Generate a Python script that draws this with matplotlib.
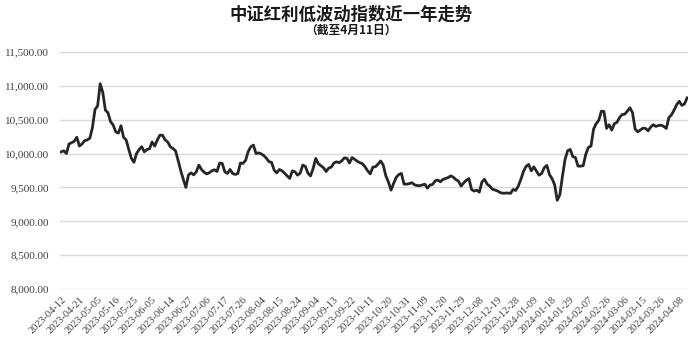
import pandas as pd
import matplotlib
matplotlib.use("Agg")
import matplotlib.pyplot as plt
from matplotlib.ticker import FuncFormatter

# 交易日（剔除节假日）
start_date = "2023-04-12"
end_date = "2024-04-11"
holidays = [
    "2023-05-01", "2023-05-02", "2023-05-03",
    "2023-06-22", "2023-06-23",
    "2023-09-29", "2023-10-02", "2023-10-03", "2023-10-04", "2023-10-05", "2023-10-06",
    "2024-01-01",
    "2024-02-09", "2024-02-12", "2024-02-13", "2024-02-14", "2024-02-15", "2024-02-16",
    "2024-04-04", "2024-04-05",
]

# 中证红利低波动指数收盘点位
close = [
    10025, 10040, 10000, 10140, 10160, 10180, 10240, 10110, 10140, 10190,
    10200, 10225, 10380, 10650, 10700, 11030, 10900, 10640, 10600, 10470,
    10420, 10320, 10300, 10410, 10240, 10200, 10060, 9930, 9870, 10000,
    10060, 10100, 10025, 10060, 10070, 10170, 10110, 10200, 10270, 10270,
    10200, 10170, 10100, 10075, 10040, 9900, 9750, 9620, 9500, 9685,
    9715, 9685, 9730, 9829, 9765, 9725, 9700, 9715, 9745, 9760,
    9735, 9860, 9854, 9730, 9706, 9765, 9705, 9691, 9706, 9860,
    9854, 9900, 10030, 10100, 10124, 10000, 10010, 9995, 9970, 9930,
    9880, 9869, 9755, 9715, 9765, 9745, 9710, 9670, 9633, 9745,
    9730, 9681, 9710, 9829, 9810, 9710, 9670, 9780, 9928, 9850,
    9820, 9790, 9735, 9785, 9800, 9860, 9878, 9865, 9890, 9935,
    9930, 9860, 9940, 9915, 9885, 9865, 9850, 9804, 9745, 9700,
    9800, 9805, 9845, 9890, 9830, 9670, 9580, 9460, 9559, 9648,
    9690, 9706, 9550, 9548, 9555, 9570, 9540, 9528, 9525, 9535,
    9549, 9490, 9535, 9544, 9597, 9608, 9583, 9618, 9632, 9646,
    9670, 9650, 9615, 9590, 9520, 9568, 9605, 9630, 9470, 9446,
    9460, 9430, 9580, 9620, 9550, 9520, 9475, 9462, 9448, 9425,
    9414, 9416, 9418, 9412, 9470, 9455, 9520, 9620, 9735, 9810,
    9839, 9745, 9804, 9740, 9680, 9705, 9790, 9825, 9690, 9630,
    9540, 9310, 9390, 9660, 9910, 10040, 10060, 9955, 9940, 9814,
    9814, 9820, 9990, 10090, 10110, 10360, 10440, 10490, 10625, 10620,
    10370, 10425, 10345, 10440, 10460, 10530, 10575, 10580, 10625, 10675,
    10600, 10360, 10320, 10345, 10375, 10370, 10335, 10390, 10425, 10400,
    10412, 10419, 10400, 10370, 10530, 10570, 10640, 10720, 10770, 10710,
    10730, 10820,
]

dates = pd.bdate_range(start_date, end_date, freq="C", holidays=holidays)
labels = [d.strftime("%Y-%m-%d") for d in dates]
x = list(range(len(close)))

plt.rcParams["font.family"] = ["Noto Sans CJK SC", "DejaVu Sans"]

fig = plt.figure(figsize=(7, 3.43), dpi=100)
ax = fig.add_axes([0.086, 0.157, 0.897, 0.692])

ax.plot(x, close, color="#262626", linewidth=2.0, solid_joinstyle="round")

ax.set_ylim(8000, 11500)
ax.set_yticks(range(8000, 11501, 500))
ax.yaxis.set_major_formatter(FuncFormatter(lambda v, p: f"{v:,.2f}"))
ax.set_xlim(-0.4, len(close) - 0.6)
ax.set_xticks(x[::7])
ax.set_xticklabels(labels[::7], rotation=45, ha="right", rotation_mode="anchor")

ax.grid(True, axis="y", color="#d9d9d9", linewidth=1)
ax.set_axisbelow(True)
for s in ax.spines.values():
    s.set_visible(False)
ax.tick_params(axis="both", length=0, colors="#404040")
ax.tick_params(axis="y", pad=8)
ax.tick_params(axis="x", pad=4)
for t in ax.get_yticklabels():
    t.set_fontfamily("Liberation Serif")
    t.set_fontsize(8)
for t in ax.get_xticklabels():
    t.set_fontfamily("Liberation Serif")
    t.set_fontsize(7.5)

fig.text(0.502, 0.958, "中证红利低波动指数近一年走势", ha="center", va="center",
         fontsize=12.5, fontweight="bold", color="#1a1a1a")
fig.text(0.502, 0.912, "（截至4月11日）", ha="center", va="center",
         fontsize=8.5, fontweight="bold", color="#1a1a1a")

fig.savefig("out.png", dpi=100)
